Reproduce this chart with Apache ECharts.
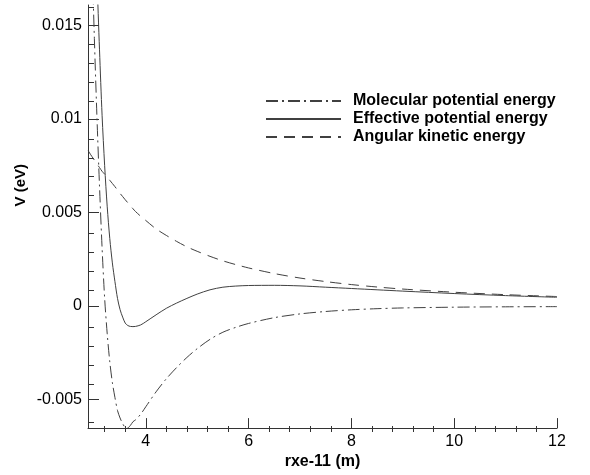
<!DOCTYPE html>
<html>
<head>
<meta charset="utf-8">
<script src="https://cdn.jsdelivr.net/npm/echarts@6/dist/echarts.min.js"></script>
<style>
html,body{margin:0;padding:0;background:#fff;}
#chart{width:590px;height:475px;}
</style>
</head>
<body>
<div id="chart"></div>
<script>
// ---- data ----
var xValues = [2.88, 2.95, 3.0, 3.05, 3.1, 3.15, 3.2, 3.25, 3.3, 3.35, 3.4, 3.45, 3.5, 3.55, 3.6, 3.65, 3.7, 3.75, 3.8, 3.9, 4.0, 4.2, 4.4, 4.6, 4.8, 5.0, 5.25, 5.5, 5.75, 6.0, 6.5, 7.0, 7.5, 8.0, 8.5, 9.0, 10.0, 11.0, 12.0];
var molecular = [0.025, 0.0190, 0.0143, 0.0101, 0.0064, 0.0031, 0.0004, -0.0015, -0.0030, -0.0041, -0.0049, -0.0056, -0.0060, -0.0063, -0.0065, -0.00652, -0.0064, -0.0062, -0.0061, -0.0058, -0.0054, -0.0046, -0.0039, -0.0033, -0.00276, -0.00229, -0.00179, -0.00141, -0.00115, -0.00094, -0.00063, -0.00043, -0.0003, -0.00021, -0.00015, -0.00011, -0.00007, -0.00005, -0.00004];
var effective = [0.034, 0.0269, 0.0220, 0.0176, 0.0137, 0.0102, 0.0075, 0.0053, 0.0036, 0.0023, 0.0013, 0.0004, -0.0002, -0.0006, -0.00092, -0.00105, -0.0011, -0.00111, -0.0011, -0.00102, -0.00085, -0.00048, -0.00013, 0.00015, 0.0004, 0.00063, 0.00086, 0.001, 0.00106, 0.00109, 0.0011, 0.00107, 0.0010, 0.00093, 0.00086, 0.00079, 0.00066, 0.00055, 0.00046];
var angular = [0.0083, 0.0080, 0.0078, 0.0076, 0.0074, 0.0072, 0.00705, 0.0069, 0.00672, 0.00655, 0.00638, 0.0062, 0.00602, 0.00585, 0.00568, 0.00552, 0.00536, 0.0052, 0.00505, 0.0048, 0.00457, 0.00412, 0.00377, 0.00345, 0.00316, 0.00292, 0.00265, 0.00241, 0.00221, 0.00203, 0.00173, 0.00149, 0.0013, 0.00114, 0.00101, 0.0009, 0.00073, 0.0006, 0.0005];
var seriesNames = ['Molecular potential energy', 'Effective potential energy', 'Angular kinetic energy'];
var xTickLabels = [4, 6, 8, 10, 12];
var xMinorTicks = [3.2, 3.6, 4.4, 4.8, 5.2, 5.6, 6.4, 6.8, 7.2, 7.6, 8.4, 8.8, 9.2, 9.6, 10.4, 10.8, 11.2, 11.6];
var yTickLabels = [-0.005, 0, 0.005, 0.01, 0.015];
var yMinorTicks = [-0.006, -0.004, -0.003, -0.002, -0.001, 0.001, 0.002, 0.003, 0.004, 0.006, 0.007, 0.008, 0.009, 0.011, 0.012, 0.013, 0.014, 0.016];
var xTitle = 'rxe-11 (m)';
var yTitle = 'V (eV)';
var xMin = 2.876, xMax = 12, yMin = -0.00654, yMax = 0.0161;

function pairs(ys) { return xValues.map(function (x, i) { return [x, ys[i]]; }); }

var FONT = 'Arial, "Liberation Sans", sans-serif';
var AX = '#333333';
var gridRect = { left: 88, right: 33, top: 5, bottom: 43 };

var chart = echarts.init(document.getElementById('chart'), null, { renderer: 'canvas' });
chart.setOption({
  animation: false,
  backgroundColor: '#ffffff',
  grid: [
    Object.assign({ containLabel: false }, gridRect),
    Object.assign({ containLabel: false }, gridRect)
  ],
  xAxis: [
    {
      type: 'value', gridIndex: 0, min: xMin, max: xMax, position: 'bottom',
      axisLine: { show: true, onZero: false, lineStyle: { color: AX, width: 1 } },
      axisTick: { show: true, inside: true, length: 10, lineStyle: { color: AX }, customValues: xTickLabels },
      axisLabel: { show: true, customValues: xTickLabels, color: '#000', fontSize: 16, fontFamily: FONT, margin: 5 },
      splitLine: { show: false },
      name: xTitle, nameLocation: 'middle', nameGap: 22,
      nameTextStyle: { color: '#000', fontSize: 16, fontWeight: 'bold', fontFamily: FONT }
    },
    {
      type: 'value', gridIndex: 1, min: xMin, max: xMax, position: 'bottom',
      axisLine: { show: false, onZero: false },
      axisTick: { show: true, inside: true, length: 6, lineStyle: { color: AX }, customValues: xMinorTicks },
      axisLabel: { show: false },
      splitLine: { show: false }
    }
  ],
  yAxis: [
    {
      type: 'value', gridIndex: 0, min: yMin, max: yMax, position: 'left',
      axisLine: { show: true, onZero: false, lineStyle: { color: AX, width: 1 } },
      axisTick: { show: true, inside: true, length: 11, lineStyle: { color: AX }, customValues: yTickLabels },
      axisLabel: { show: true, customValues: yTickLabels, color: '#000', fontSize: 16, fontFamily: FONT, margin: 6,
        formatter: function (v) { return String(Math.round(v * 1000) / 1000); } },
      splitLine: { show: false }
    },
    {
      type: 'value', gridIndex: 1, min: yMin, max: yMax, position: 'left',
      axisLine: { show: false, onZero: false },
      axisTick: { show: true, inside: true, length: 6, lineStyle: { color: AX }, customValues: yMinorTicks },
      axisLabel: { show: false },
      splitLine: { show: false }
    }
  ],
  legend: {
    show: true, orient: 'vertical', left: 260, top: 88,
    itemWidth: 75, itemHeight: 14, itemGap: 2,
    data: seriesNames,
    itemStyle: { opacity: 0 },
    textStyle: { color: '#000', fontSize: 16, fontWeight: 'bold', fontFamily: FONT, padding: [0, 0, 0, 7] }
  },
  graphic: [{
    type: 'text', left: 13, top: 164, rotation: Math.PI / 2,
    style: { text: yTitle, fill: '#000', font: 'bold 15px ' + FONT }
  }],
  series: [
    {
      name: seriesNames[0], type: 'line', xAxisIndex: 0, yAxisIndex: 0, data: pairs(molecular),
      symbol: 'none', smooth: 0.3, clip: true,
      itemStyle: { color: '#404040' },
      lineStyle: { color: '#404040', width: 1, type: [12, 4, 2, 4] }
    },
    {
      name: seriesNames[1], type: 'line', xAxisIndex: 0, yAxisIndex: 0, data: pairs(effective),
      symbol: 'none', smooth: 0.3, clip: true,
      itemStyle: { color: '#404040' },
      lineStyle: { color: '#404040', width: 1, type: 'solid' }
    },
    {
      name: seriesNames[2], type: 'line', xAxisIndex: 0, yAxisIndex: 0, data: pairs(angular),
      symbol: 'none', smooth: 0.3, clip: true,
      itemStyle: { color: '#404040' },
      lineStyle: { color: '#404040', width: 1, type: [11, 7] }
    }
  ]
});
</script>
</body>
</html>
